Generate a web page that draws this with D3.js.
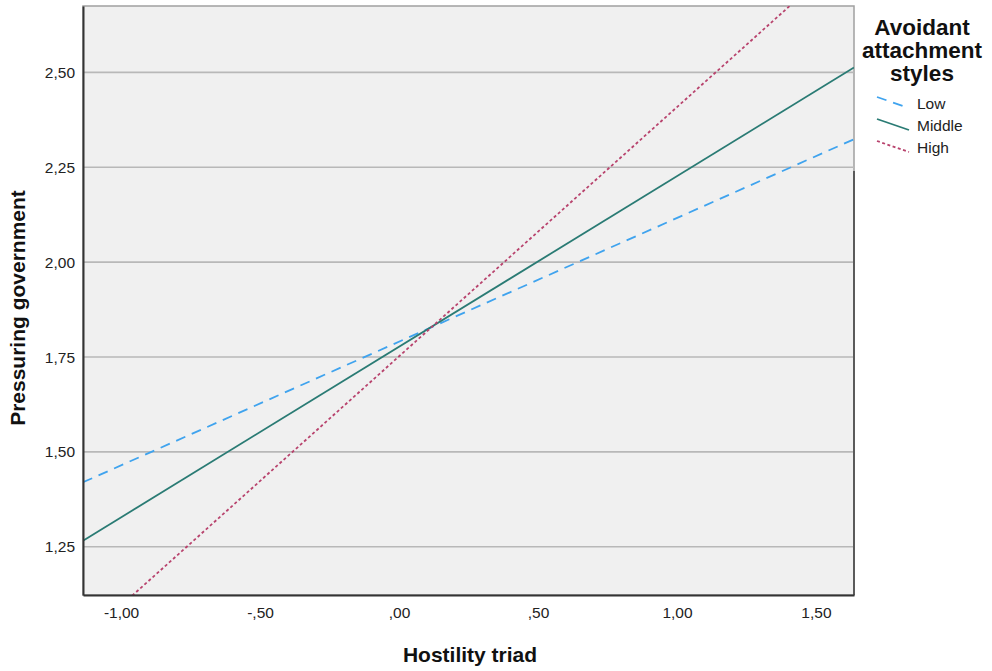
<!DOCTYPE html>
<html>
<head>
<meta charset="utf-8">
<script src="https://cdn.jsdelivr.net/npm/d3@7"></script>
<style>
  body { margin: 0; background: #fff; }
  text { font-family: Arial, "Liberation Sans", sans-serif; }
</style>
</head>
<body>
<div id="chart"></div>
<script>
const width = 992;
const height = 671;
const margin = { top: 6, right: 138, bottom: 76, left: 83 };

// data: predicted value at both ends of the x range
const groups = ["Low", "Middle", "High"];
const xEnds = [-1.137, 1.637];
const lowValues = [1.420, 2.324];
const middleValues = [1.266, 2.513];
const highValues = [1.005, 2.827];
const xTicks = [-1.0, -0.5, 0.0, 0.5, 1.0, 1.5];
const yTicks = [1.25, 1.5, 1.75, 2.0, 2.25, 2.5];

const series = [
  { name: "Low", values: lowValues, color: "#3fa3ee", dash: "10,7", w: 1.8 },
  { name: "Middle", values: middleValues, color: "#2a7b74", dash: null, w: 1.8 },
  { name: "High", values: highValues, color: "#b8436d", dash: "3,2.5", w: 1.8 }
];

const svg = d3.select('#chart')
  .append('svg')
  .attr('width', width)
  .attr('height', height)

const x = d3.scaleLinear()
  .domain([-1.137, 1.637])
  .range([margin.left, width - margin.right])

const y = d3.scaleLinear()
  .domain([1.123, 2.675])
  .range([height - margin.bottom, margin.top])

// comma decimal, no leading zero (SPSS style)
const fmt = d => {
  let s = d3.format(".2f")(Math.abs(d)).replace(".", ",");
  if (s.startsWith("0")) s = s.slice(1);
  return (d < 0 ? "-" : "") + s;
};

const x0 = x.range()[0], x1 = x.range()[1];
const y0 = y.range()[1], y1 = y.range()[0];

svg.append('rect')
  .attr('x', x0).attr('y', y0)
  .attr('width', x1 - x0).attr('height', y1 - y0)
  .attr('fill', '#f0f0f0')
  .attr('stroke', '#a0a0a0')
  .attr('stroke-width', 1.5)

// gridlines
svg.append('g')
  .selectAll('line')
  .data(yTicks)
  .join('line')
  .attr('x1', x0).attr('x2', x1)
  .attr('y1', d => y(d)).attr('y2', d => y(d))
  .attr('stroke', '#b8b8b8')
  .attr('stroke-width', 1.6)

// dark part of right border
svg.append('line')
  .attr('x1', x1).attr('x2', x1)
  .attr('y1', y(2.24)).attr('y2', y1)
  .attr('stroke', '#444').attr('stroke-width', 1.6)

svg.append('clipPath').attr('id', 'plot-clip')
  .append('rect')
  .attr('x', x0).attr('y', y0)
  .attr('width', x1 - x0).attr('height', y1 - y0)

const line = d3.line()
  .x(d => x(d[0]))
  .y(d => y(d[1]))

svg.append('g')
  .attr('clip-path', 'url(#plot-clip)')
  .selectAll('path')
  .data(series)
  .join('path')
  .attr('d', s => line(xEnds.map((xv, i) => [xv, s.values[i]])))
  .attr('fill', 'none')
  .attr('stroke', s => s.color)
  .attr('stroke-width', s => s.w)
  .attr('stroke-dasharray', s => s.dash)

// axes
const xAxis = d3.axisBottom(x)
  .tickValues(xTicks)
  .tickFormat(fmt)
  .tickSize(0)
  .tickPadding(12)
  .tickSizeOuter(0)

const yAxis = d3.axisLeft(y)
  .tickValues(yTicks)
  .tickFormat(fmt)
  .tickSize(0)
  .tickPadding(8)
  .tickSizeOuter(0)

const gx = svg.append('g')
  .attr('transform', `translate(0, ${y1})`)
  .call(xAxis)
gx.select('.domain').attr('stroke', '#333').attr('stroke-width', 2)
gx.selectAll('text').attr('font-size', 15.5).attr('fill', '#222')

const gy = svg.append('g')
  .attr('transform', `translate(${x0}, 0)`)
  .call(yAxis)
gy.select('.domain').attr('stroke', '#333').attr('stroke-width', 2)
gy.selectAll('text').attr('font-size', 15.5).attr('fill', '#222')

// axis titles
svg.append('text')
  .attr('x', 470).attr('y', 662)
  .attr('text-anchor', 'middle')
  .attr('font-size', 21).attr('font-weight', 'bold')
  .attr('fill', '#111')
  .text('Hostility triad')

svg.append('text')
  .attr('transform', 'translate(25, 308) rotate(-90)')
  .attr('text-anchor', 'middle')
  .attr('font-size', 21).attr('font-weight', 'bold')
  .attr('fill', '#111')
  .text('Pressuring government')

// legend
const legend = svg.append('g')
const titleLines = ["Avoidant", "attachment", "styles"];
legend.selectAll('text.title')
  .data(titleLines)
  .join('text')
  .attr('class', 'title')
  .attr('x', 922)
  .attr('y', (d, i) => 35 + i * 23)
  .attr('text-anchor', 'middle')
  .attr('font-size', 22.5).attr('font-weight', 'bold')
  .attr('fill', '#111')
  .text(d => d)

const items = legend.selectAll('g.item')
  .data(series)
  .join('g')
  .attr('class', 'item')
  .attr('transform', (d, i) => `translate(877, ${97 + i * 22})`)

items.append('line')
  .attr('x1', 0).attr('y1', 0)
  .attr('x2', 32).attr('y2', 11)
  .attr('stroke', d => d.color)
  .attr('stroke-width', 1.8)
  .attr('stroke-dasharray', d => d.dash)

items.append('text')
  .attr('x', 40).attr('y', 12)
  .attr('font-size', 15.5)
  .attr('fill', '#222')
  .text(d => d.name)
</script>
</body>
</html>
